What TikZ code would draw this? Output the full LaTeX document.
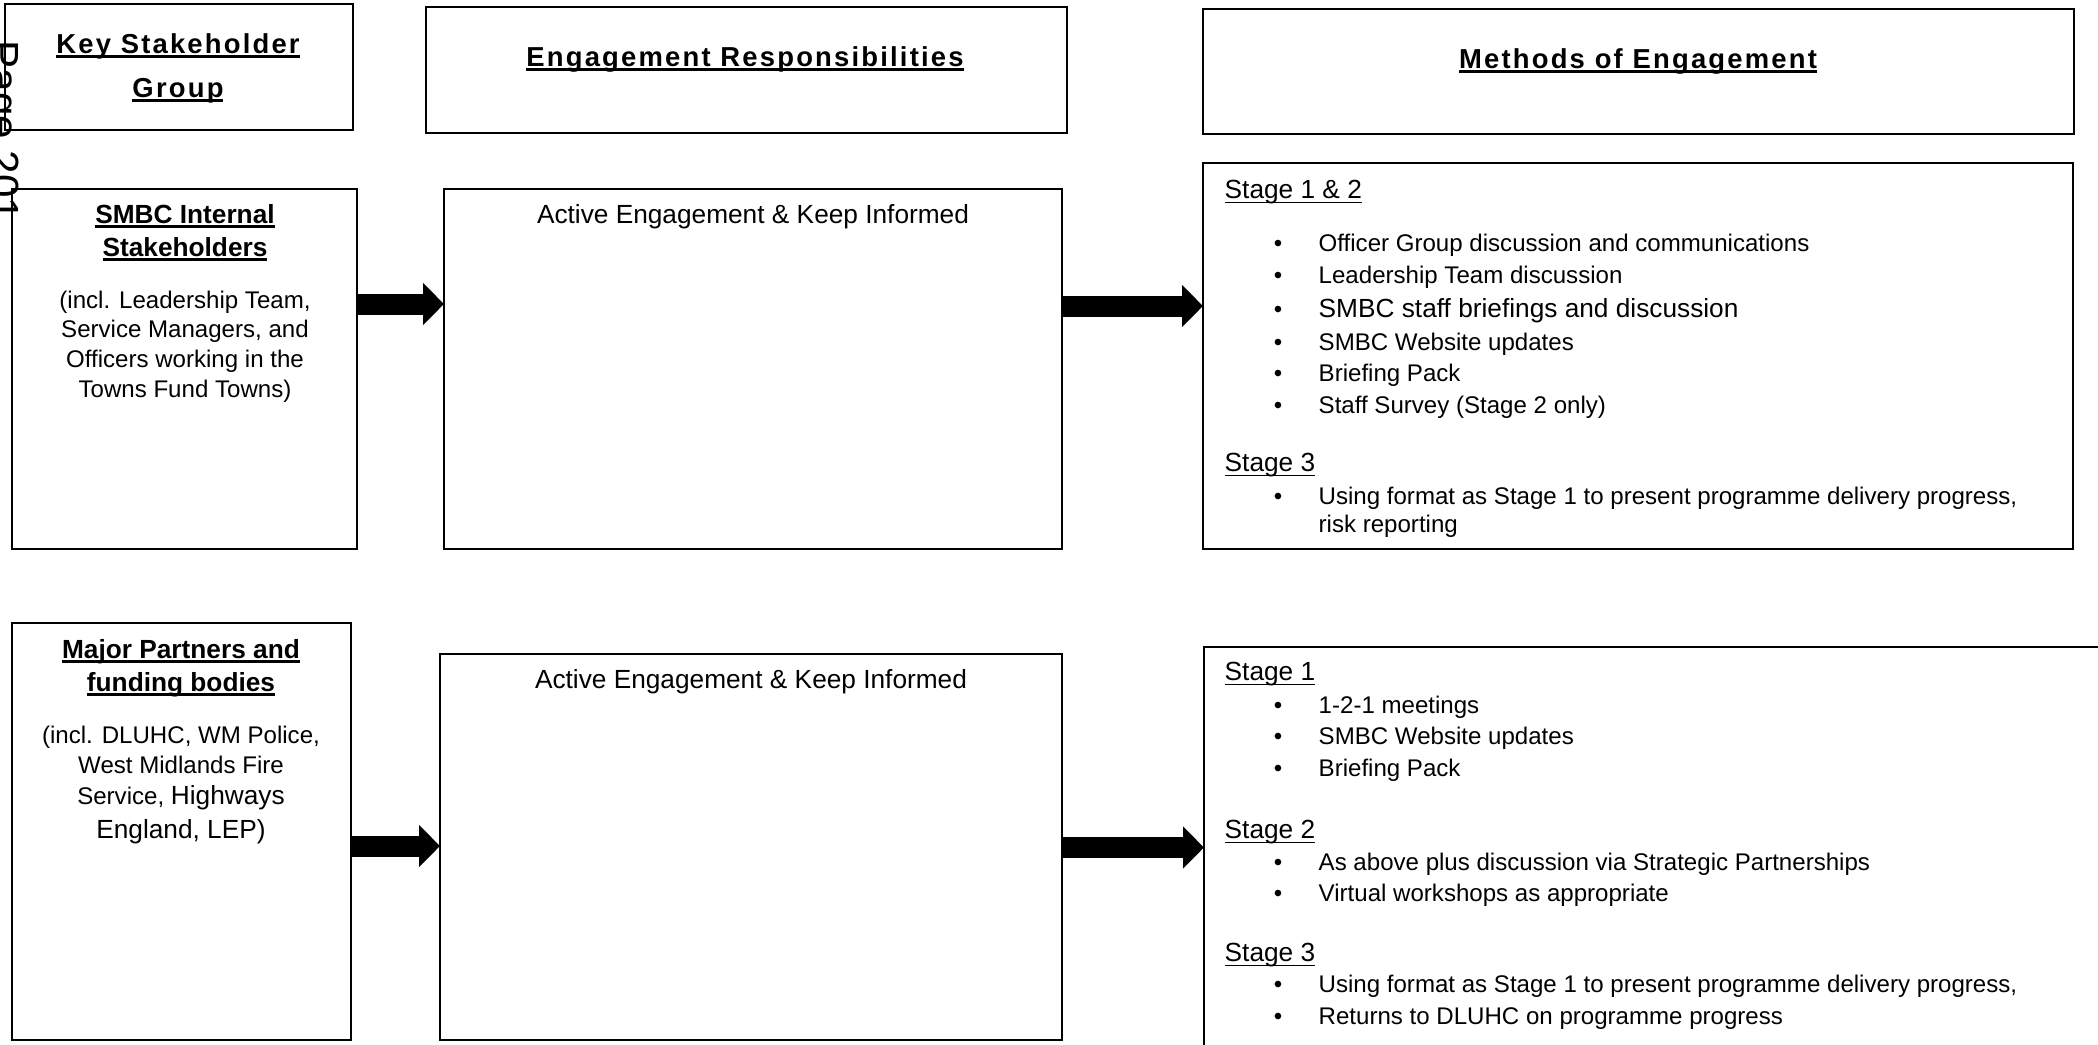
\documentclass[tikz,border=0pt]{standalone}
\usepackage{fontspec}
\setmainfont{Liberation Sans}
\newfontfamily\trackedfont[LetterSpace=8]{Liberation Sans}
\usetikzlibrary{arrows.meta}

\newlength{\ulwidth}
% #1 depth of rule bottom, #2 rule thickness, #3 text
\newcommand{\ulbox}[3]{\settowidth{\ulwidth}{#3}\rlap{\rule[-#1]{\ulwidth}{#2}}#3}

\begin{document}
\begin{tikzpicture}

% --- Styles ---
\tikzset{
    frameBox/.style={
        draw=black,
        line width=0.6pt,
        inner sep=0pt,
        outer sep=0pt
    },
    fatArrow/.style={
        line width=0.21cm,
        -{Triangle[length=0.21cm,width=0.41cm]}
    },
    headLabel/.style={
        font=\trackedfont\bfseries\fontsize{7.8}{9}\selectfont,
        inner sep=0pt, anchor=base
    },
    groupLabel/.style={
        font=\bfseries\fontsize{7.47}{9}\selectfont,
        inner sep=0pt, anchor=base
    },
    noteLabel/.style={
        font=\fontsize{6.85}{8}\selectfont,
        inner sep=0pt, anchor=base
    },
    roleLabel/.style={
        font=\fontsize{7.47}{9}\selectfont,
        inner sep=0pt, anchor=base
    },
    stageLabel/.style={
        font=\fontsize{7.47}{9}\selectfont,
        inner sep=0pt, anchor=base west
    },
    itemLabel/.style={
        font=\fontsize{6.85}{8}\selectfont,
        inner sep=0pt, anchor=base west
    },
    bulletMark/.style={
        font=\fontsize{6.85}{8}\selectfont,
        inner sep=0pt, anchor=base
    },
    pageLabel/.style={
        font=\fontsize{12}{14}\selectfont,
        inner sep=0pt, rotate=-90, anchor=base west
    }
}

\useasboundingbox (0,0) rectangle (20.98,-10.44);
\clip (0,0) rectangle (20.98,-10.44);

% =========================================================
% Header row
% =========================================================
\node[frameBox, minimum width=3.48cm, minimum height=1.26cm] (keyHead) at (1.79,-0.67) {};
\node[frameBox, minimum width=6.41cm, minimum height=1.26cm] (respHead) at (7.465,-0.70) {};
\node[frameBox, minimum width=8.71cm, minimum height=1.25cm] (methHead) at (16.385,-0.715) {};

\node[headLabel] (keyTitleA) at (1.78,-0.53) {\ulbox{1.4pt}{0.85pt}{Key Stakeholder}};
\node[headLabel] (keyTitleB) at (1.78,-0.97) {\ulbox{1.4pt}{0.85pt}{Group}};
\node[headLabel] (respTitle) at (7.45,-0.66) {\ulbox{1.4pt}{0.85pt}{Engagement Responsibilities}};
\node[headLabel] (methTitle) at (16.38,-0.68) {\ulbox{1.4pt}{0.85pt}{Methods of Engagement}};

% Page number on the left edge
\node[pageLabel] (pageNo) at (-0.10,-0.40) {Page 201};

% =========================================================
% Row 1: SMBC internal stakeholders
% =========================================================
\node[frameBox, minimum width=3.45cm, minimum height=3.60cm] (smbcBox) at (1.845,-3.69) {};
\node[frameBox, minimum width=6.18cm, minimum height=3.60cm] (actOneBox) at (7.53,-3.69) {};
\node[frameBox, minimum width=8.70cm, minimum height=3.86cm] (methOneBox) at (16.38,-3.56) {};

\node[groupLabel] (smbcTitleA) at (1.85,-2.23) {\ulbox{1.3pt}{0.6pt}{SMBC Internal}};
\node[groupLabel] (smbcTitleB) at (1.85,-2.56) {\ulbox{1.3pt}{0.6pt}{Stakeholders}};
\node[noteLabel] (smbcNoteA) at (1.85,-3.08) {(incl. Leadership Team,};
\node[noteLabel] (smbcNoteB) at (1.85,-3.37) {Service Managers, and};
\node[noteLabel] (smbcNoteC) at (1.85,-3.67) {Officers working in the};
\node[noteLabel] (smbcNoteD) at (1.85,-3.97) {Towns Fund Towns)};

\node[roleLabel] (actOneText) at (7.53,-2.23) {Active Engagement \& Keep Informed};

% Methods, row 1
\node[stageLabel] (stageOneA) at (12.24,-1.98) {\ulbox{1.4pt}{0.4pt}{Stage 1 \& 2}};
\node[bulletMark] (bulOneA) at (12.78,-2.51) {\textbullet};
\node[itemLabel] (itemOneA) at (13.18,-2.51) {Officer Group discussion and communications};
\node[bulletMark] (bulOneB) at (12.78,-2.83) {\textbullet};
\node[itemLabel] (itemOneB) at (13.18,-2.83) {Leadership Team discussion};
\node[bulletMark] (bulOneC) at (12.78,-3.17) {\textbullet};
\node[itemLabel, font=\fontsize{7.47}{9}\selectfont] (itemOneC) at (13.18,-3.17) {SMBC staff briefings and discussion};
\node[bulletMark] (bulOneD) at (12.78,-3.50) {\textbullet};
\node[itemLabel] (itemOneD) at (13.18,-3.50) {SMBC Website updates};
\node[bulletMark] (bulOneE) at (12.78,-3.81) {\textbullet};
\node[itemLabel] (itemOneE) at (13.18,-3.81) {Briefing Pack};
\node[bulletMark] (bulOneF) at (12.78,-4.13) {\textbullet};
\node[itemLabel] (itemOneF) at (13.18,-4.13) {Staff Survey (Stage 2 only)};

\node[stageLabel] (stageOneB) at (12.24,-4.71) {\ulbox{1.4pt}{0.4pt}{Stage 3}};
\node[bulletMark] (bulOneG) at (12.78,-5.04) {\textbullet};
\node[itemLabel] (itemOneG) at (13.18,-5.04) {Using format as Stage 1 to present programme delivery progress,};
\node[itemLabel] (itemOneH) at (13.18,-5.32) {risk reporting};

\draw[fatArrow] (smbcBox.east |- 0,-3.04) -- (actOneBox.west |- 0,-3.04);
\draw[fatArrow] (actOneBox.east |- 0,-3.06) -- (methOneBox.west |- 0,-3.06);

% =========================================================
% Row 2: Major partners and funding bodies
% =========================================================
\node[frameBox, minimum width=3.39cm, minimum height=4.17cm] (majorBox) at (1.815,-8.315) {};
\node[frameBox, minimum width=6.22cm, minimum height=3.86cm] (actTwoBox) at (7.51,-8.47) {};
\node[frameBox, minimum width=9.46cm, minimum height=4.33cm] (methTwoBox) at (16.77,-8.635) {};

\node[groupLabel] (majorTitleA) at (1.81,-6.58) {\ulbox{1.3pt}{0.6pt}{Major Partners and}};
\node[groupLabel] (majorTitleB) at (1.81,-6.91) {\ulbox{1.3pt}{0.6pt}{funding bodies}};
\node[noteLabel] (majorNoteA) at (1.81,-7.43) {(incl. DLUHC, WM Police,};
\node[noteLabel] (majorNoteB) at (1.81,-7.73) {West Midlands Fire};
\node[noteLabel] (majorNoteC) at (1.81,-8.04) {Service, {\fontsize{7.47}{9}\selectfont Highways}};
\node[roleLabel] (majorNoteD) at (1.81,-8.38) {England, LEP)};

\node[roleLabel] (actTwoText) at (7.51,-6.88) {Active Engagement \& Keep Informed};

% Methods, row 2
\node[stageLabel] (stageTwoA) at (12.24,-6.80) {\ulbox{1.4pt}{0.4pt}{Stage 1}};
\node[bulletMark] (bulTwoA) at (12.78,-7.13) {\textbullet};
\node[itemLabel] (itemTwoA) at (13.18,-7.13) {1-2-1 meetings};
\node[bulletMark] (bulTwoB) at (12.78,-7.44) {\textbullet};
\node[itemLabel] (itemTwoB) at (13.18,-7.44) {SMBC Website updates};
\node[bulletMark] (bulTwoC) at (12.78,-7.76) {\textbullet};
\node[itemLabel] (itemTwoC) at (13.18,-7.76) {Briefing Pack};

\node[stageLabel] (stageTwoB) at (12.24,-8.38) {\ulbox{1.4pt}{0.4pt}{Stage 2}};
\node[bulletMark] (bulTwoD) at (12.78,-8.70) {\textbullet};
\node[itemLabel] (itemTwoD) at (13.18,-8.70) {As above plus discussion via Strategic Partnerships};
\node[bulletMark] (bulTwoE) at (12.78,-9.01) {\textbullet};
\node[itemLabel] (itemTwoE) at (13.18,-9.01) {Virtual workshops as appropriate};

\node[stageLabel] (stageTwoC) at (12.24,-9.61) {\ulbox{1.4pt}{0.4pt}{Stage 3}};
\node[bulletMark] (bulTwoF) at (12.78,-9.92) {\textbullet};
\node[itemLabel] (itemTwoF) at (13.18,-9.92) {Using format as Stage 1 to present programme delivery progress,};
\node[bulletMark] (bulTwoG) at (12.78,-10.24) {\textbullet};
\node[itemLabel] (itemTwoG) at (13.18,-10.24) {Returns to DLUHC on programme progress};

\draw[fatArrow] (majorBox.east |- 0,-8.46) -- (actTwoBox.west |- 0,-8.46);
\draw[fatArrow] (actTwoBox.east |- 0,-8.475) -- (methTwoBox.west |- 0,-8.475);

\end{tikzpicture}
\end{document}
